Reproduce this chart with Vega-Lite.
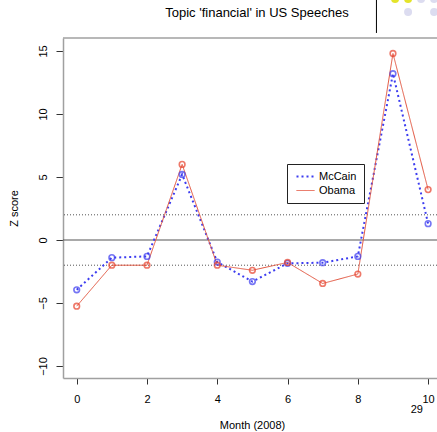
{
  "$schema": "https://vega.github.io/schema/vega-lite/v6.json",
  "width": 374,
  "height": 340,
  "autosize": {"type": "none"},
  "padding": {"left": 63, "top": 38, "right": 0, "bottom": 54},
  "background": "white",
  "config": {
    "view": {"stroke": null},
    "font": "Liberation Sans",
    "axis": {"labelFont": "Liberation Sans", "titleFont": "Liberation Sans", "labelColor": "black", "titleColor": "black", "grid": false}
  },
  "datasets": {
    "zscores": [
      {"month": 0, "candidate": "McCain", "z": -3.95},
      {"month": 1, "candidate": "McCain", "z": -1.4},
      {"month": 2, "candidate": "McCain", "z": -1.3},
      {"month": 3, "candidate": "McCain", "z": 5.2},
      {"month": 4, "candidate": "McCain", "z": -1.75},
      {"month": 5, "candidate": "McCain", "z": -3.3},
      {"month": 6, "candidate": "McCain", "z": -1.85},
      {"month": 7, "candidate": "McCain", "z": -1.8},
      {"month": 8, "candidate": "McCain", "z": -1.3},
      {"month": 9, "candidate": "McCain", "z": 13.2},
      {"month": 10, "candidate": "McCain", "z": 1.3},
      {"month": 0, "candidate": "Obama", "z": -5.25},
      {"month": 1, "candidate": "Obama", "z": -2.0},
      {"month": 2, "candidate": "Obama", "z": -2.0},
      {"month": 3, "candidate": "Obama", "z": 6.0},
      {"month": 4, "candidate": "Obama", "z": -2.0},
      {"month": 5, "candidate": "Obama", "z": -2.4},
      {"month": 6, "candidate": "Obama", "z": -1.78},
      {"month": 7, "candidate": "Obama", "z": -3.45},
      {"month": 8, "candidate": "Obama", "z": -2.7},
      {"month": 9, "candidate": "Obama", "z": 14.8},
      {"month": 10, "candidate": "Obama", "z": 4.0}
    ],
    "thresholds": [
      {"z": 2},
      {"z": -2}
    ],
    "anchor": [
      {"k": 1}
    ]
  },
  "layer": [
    {
      "data": {"name": "thresholds"},
      "mark": {"type": "rule", "color": "#555555", "strokeWidth": 1, "strokeDash": [1, 2]},
      "encoding": {
        "y": {"field": "z", "type": "quantitative", "scale": {"domain": [-10.95, 16.03], "nice": false, "zero": false}}
      }
    },
    {
      "data": {"name": "anchor"},
      "mark": {"type": "rule", "color": "#555555", "strokeWidth": 1.2},
      "encoding": {"y": {"datum": 0}}
    },
    {
      "data": {"name": "anchor"},
      "mark": {"type": "rule", "color": "#a0a0a0", "strokeWidth": 1.5},
      "encoding": {"y": {"datum": 16.03}}
    },
    {
      "data": {"name": "zscores"},
      "mark": {"type": "line"},
      "encoding": {
        "x": {
          "field": "month",
          "type": "quantitative",
          "title": "Month (2008)",
          "scale": {"domain": [-0.39, 10.253], "nice": false, "zero": false},
          "axis": {
            "values": [0, 2, 4, 6, 8, 10],
            "domainColor": "#a0a0a0",
            "domainWidth": 1.5,
            "tickColor": "#333333",
            "tickSize": 6,
            "labelFontSize": 11,
            "labelPadding": 9,
            "titleFontSize": 11,
            "titleFontWeight": "normal",
            "titleX": 189,
            "titleY": 47,
            "titleBaseline": "middle",
            "titleAlign": "center"
          }
        },
        "y": {
          "field": "z",
          "type": "quantitative",
          "title": "Z score",
          "axis": {
            "values": [-10, -5, 0, 5, 10, 15],
            "domainColor": "#a0a0a0",
            "domainWidth": 1.5,
            "tickColor": "#333333",
            "tickSize": 7,
            "labelFontSize": 11,
            "labelAngle": -90,
            "labelAlign": "center",
            "labelBaseline": "bottom",
            "labelPadding": 8,
            "titleFontSize": 11,
            "titleFontWeight": "normal",
            "titleAngle": -90,
            "titleX": -49,
            "titleY": 170,
            "titleBaseline": "middle",
            "titleAlign": "center"
          }
        },
        "color": {
          "field": "candidate",
          "type": "nominal",
          "scale": {"domain": ["McCain", "Obama"], "range": ["#3c3cf0", "#e2553f"]},
          "legend": {
            "orient": "none",
            "legendX": 224,
            "legendY": 126,
            "title": null,
            "fillColor": "white",
            "strokeColor": "#222222",
            "padding": 7,
            "symbolType": "M-1,0H5",
            "symbolSize": 36,
            "symbolFillColor": "transparent",
            "labelFont": "Liberation Sans",
            "labelFontSize": 11,
            "labelColor": "black",
            "labelOffset": 14,
            "rowPadding": 2
          }
        },
        "strokeDash": {
          "field": "candidate",
          "type": "nominal",
          "scale": {"domain": ["McCain", "Obama"], "range": [[2, 3], [1, 0]]}
        },
        "strokeWidth": {
          "field": "candidate",
          "type": "nominal",
          "scale": {"domain": ["McCain", "Obama"], "range": [2, 1]}
        }
      }
    },
    {
      "data": {"name": "zscores"},
      "mark": {"type": "point", "filled": false, "size": 32, "strokeWidth": 1.6},
      "encoding": {
        "x": {"field": "month", "type": "quantitative"},
        "y": {"field": "z", "type": "quantitative"},
        "stroke": {
          "field": "candidate",
          "type": "nominal",
          "scale": {"domain": ["McCain", "Obama"], "range": ["#3c3cf0", "#e8412c"]},
          "legend": null
        }
      }
    },
    {
      "data": {"name": "anchor"},
      "mark": {"type": "text", "text": "Topic 'financial' in US Speeches", "fontSize": 13, "font": "Liberation Sans", "color": "black", "align": "center", "baseline": "middle", "clip": false},
      "encoding": {"x": {"datum": 5.13}, "y": {"datum": 18.02}}
    },
    {
      "data": {"name": "anchor"},
      "mark": {"type": "rule", "color": "black", "strokeWidth": 1, "clip": false},
      "encoding": {"x": {"datum": 8.53}, "y": {"datum": 19.1}, "y2": {"datum": 16.43}}
    },
    {
      "data": {"name": "anchor"},
      "mark": {"type": "point", "filled": true, "color": "#e4e42a", "size": 64, "opacity": 1, "clip": false},
      "encoding": {"x": {"datum": 9.06}, "y": {"datum": 19.13}}
    },
    {
      "data": {"name": "anchor"},
      "mark": {"type": "point", "filled": true, "color": "#e4e42a", "size": 64, "opacity": 1, "clip": false},
      "encoding": {"x": {"datum": 9.43}, "y": {"datum": 19.13}}
    },
    {
      "data": {"name": "anchor"},
      "mark": {"type": "point", "filled": true, "color": "#dcdcf0", "size": 64, "opacity": 1, "clip": false},
      "encoding": {"x": {"datum": 9.8}, "y": {"datum": 19.13}}
    },
    {
      "data": {"name": "anchor"},
      "mark": {"type": "point", "filled": true, "color": "#dcdcf0", "size": 64, "opacity": 1, "clip": false},
      "encoding": {"x": {"datum": 10.17}, "y": {"datum": 19.13}}
    },
    {
      "data": {"name": "anchor"},
      "mark": {"type": "point", "filled": true, "color": "#dcdcf0", "size": 64, "opacity": 1, "clip": false},
      "encoding": {"x": {"datum": 9.43}, "y": {"datum": 18.1}}
    },
    {
      "data": {"name": "anchor"},
      "mark": {"type": "point", "filled": true, "color": "#dcdcf0", "size": 64, "opacity": 1, "clip": false},
      "encoding": {"x": {"datum": 10.17}, "y": {"datum": 18.1}}
    },
    {
      "data": {"name": "anchor"},
      "mark": {"type": "text", "text": "29", "fontSize": 11, "font": "Liberation Sans", "color": "black", "align": "center", "baseline": "middle", "clip": false},
      "encoding": {"x": {"datum": 9.68}, "y": {"datum": -13.45}}
    }
  ]
}
